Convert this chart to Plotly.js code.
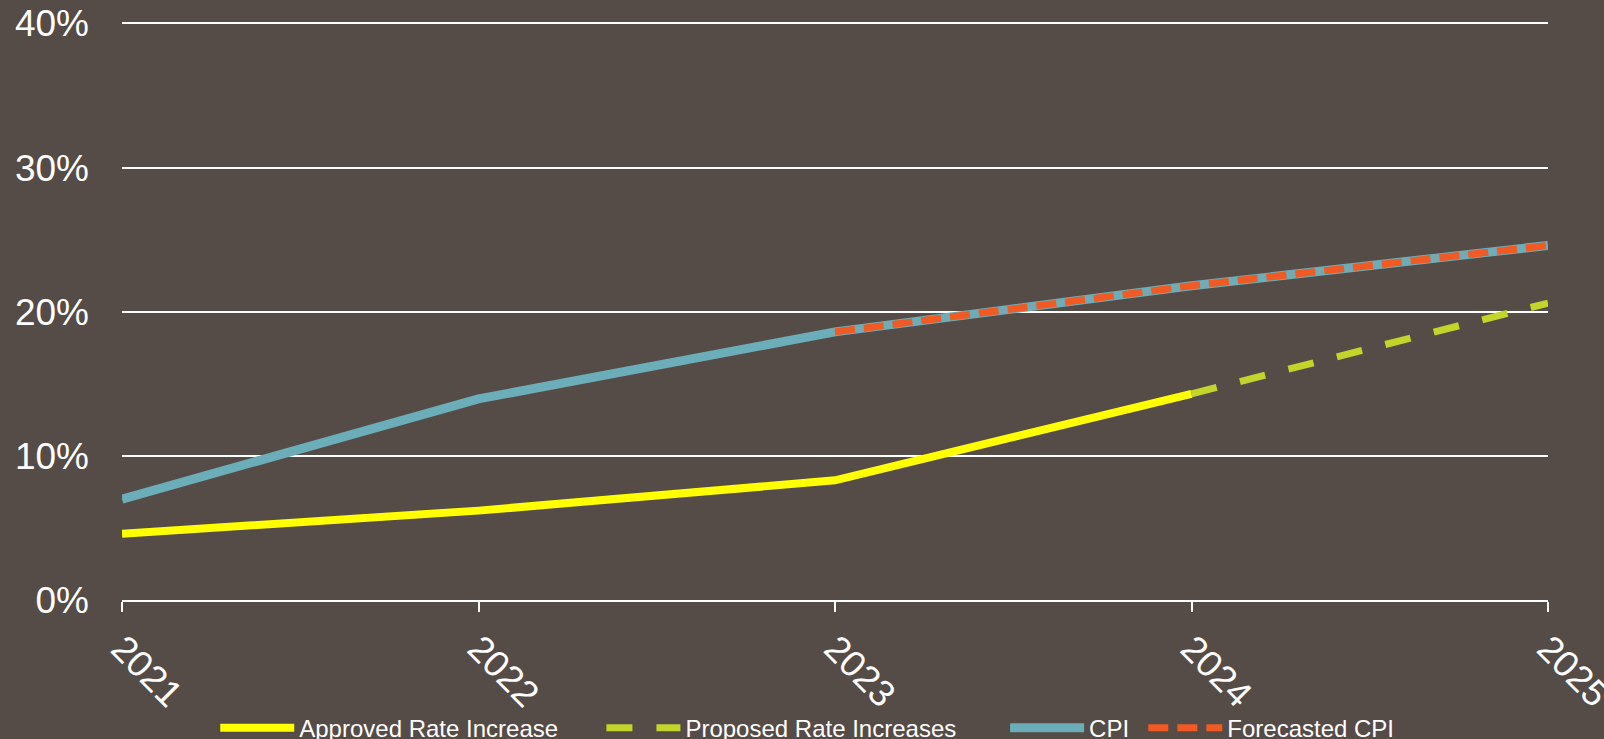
<!DOCTYPE html>
<html>
<head>
<meta charset="utf-8">
<script src="https://cdn.plot.ly/plotly-3.0.1.min.js"></script>
<style>
  html, body { margin: 0; padding: 0; background: #554b47; }
  #chart { width: 1604px; height: 739px; }
</style>
</head>
<body>
<div id="chart"></div>
<script>
// Data
const years = [2021, 2022, 2023, 2024, 2025];
const approvedRate = [4.6, 6.2, 8.3, 14.3, null];
const proposedRate = [null, null, null, 14.3, 20.6];
const cpi = [7.0, 13.95, 18.6, 21.8, 24.6];
const forecastCpi = [null, null, 18.6, 21.8, 24.6];
const yTicks = [0, 10, 20, 30, 40];
const yTickLabels = ['0%', '10%', '20%', '30%', '40%'];
const seriesNames = ['Approved Rate Increase', 'Proposed Rate Increases', 'CPI', 'Forecasted CPI'];

const FONT = 'Liberation Sans, Arial, sans-serif';

const traces = [
  {
    x: years, y: approvedRate, name: seriesNames[0], type: 'scatter', mode: 'lines',
    line: { color: '#ffff00', width: 8 }, legend: 'legend'
  },
  {
    x: years, y: proposedRate, name: seriesNames[1], type: 'scatter', mode: 'lines',
    line: { color: '#c3d52a', width: 7, dash: '26px,24px' }, legend: 'legend2'
  },
  {
    x: years, y: cpi, name: seriesNames[2], type: 'scatter', mode: 'lines',
    line: { color: '#6badb8', width: 9 }, legend: 'legend3'
  },
  {
    x: years, y: forecastCpi, name: seriesNames[3], type: 'scatter', mode: 'lines',
    line: { color: '#f15a22', width: 7, dash: '20px,9px' }, legend: 'legend4'
  }
];

function legendAt(xPos) {
  return {
    orientation: 'h',
    x: xPos, xanchor: 'left',
    y: -0.183, yanchor: 'top',
    font: { family: FONT, size: 24, color: '#ffffff' },
    bgcolor: 'rgba(0,0,0,0)',
    itemwidth: 74
  };
}

const layout = {
  width: 1604,
  height: 739,
  paper_bgcolor: '#554b47',
  plot_bgcolor: '#554b47',
  margin: { l: 122, r: 56, t: 22, b: 139, autoexpand: false },
  font: { family: FONT, color: '#ffffff', size: 24 },
  showlegend: true,
  legend: legendAt(0.0654),
  legend2: legendAt(0.3362),
  legend3: legendAt(0.6193),
  legend4: legendAt(0.7162),
  xaxis: {
    type: 'linear',
    range: [2021, 2025],
    tickvals: years,
    ticktext: years.map(String),
    tickangle: 45,
    tickfont: { family: FONT, size: 37, color: '#ffffff' },
    ticklabeloverflow: 'allow',
    showgrid: false,
    zeroline: false,
    showline: true,
    linecolor: '#ffffff',
    linewidth: 2,
    ticks: 'outside',
    ticklen: 10,
    tickwidth: 2,
    tickcolor: '#ffffff'
  },
  yaxis: {
    range: [0, 40.1],
    tickvals: yTicks,
    ticktext: yTickLabels,
    tickfont: { family: FONT, size: 37, color: '#ffffff' },
    showgrid: true,
    gridcolor: '#ffffff',
    gridwidth: 2,
    zeroline: false,
    showline: false,
    ticks: '',
    ticklabelstandoff: 32
  }
};

Plotly.newPlot('chart', traces, layout, { displayModeBar: false, staticPlot: true });
</script>
</body>
</html>
